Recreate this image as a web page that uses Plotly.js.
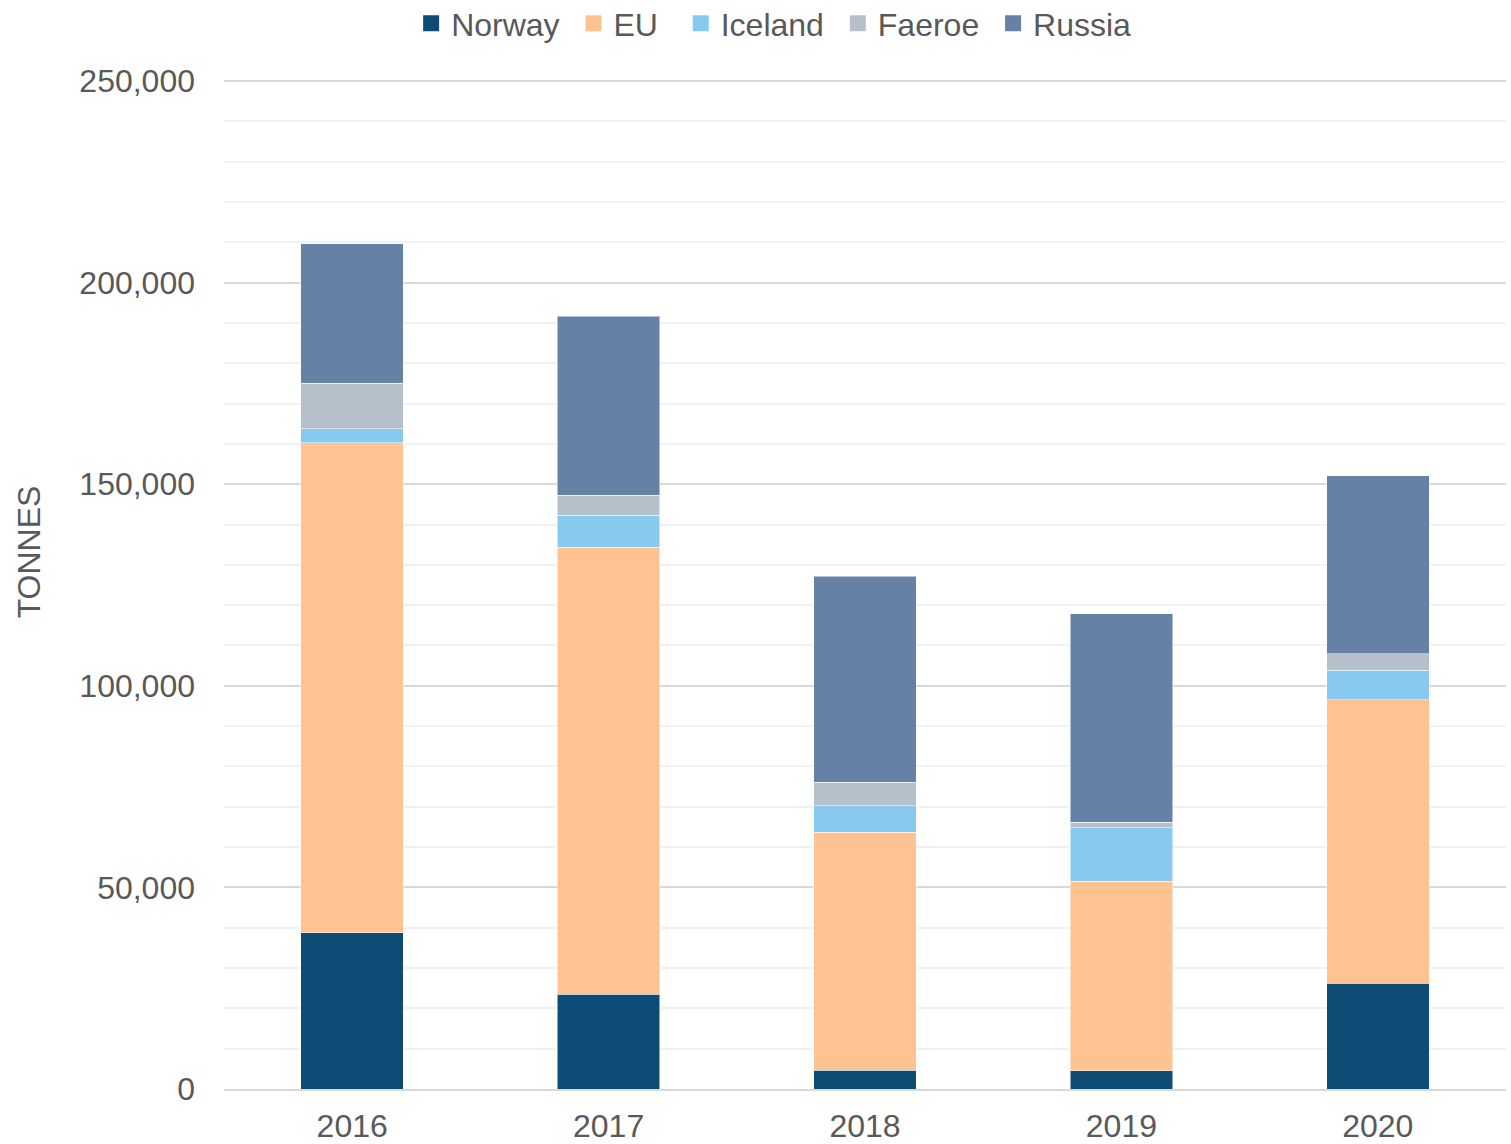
<!DOCTYPE html>
<html>
<head>
<meta charset="utf-8">
<script src="https://cdn.plot.ly/plotly-3.0.1.min.js"></script>
<style>
html,body{margin:0;padding:0;background:#fff;}
#chart{width:1511px;height:1144px;}
</style>
</head>
<body>
<div id="chart"></div>
<script>
const years = ["2016", "2017", "2018", "2019", "2020"];
const norway  = [38800, 23500, 4600, 4500, 26200];
const eu      = [121500, 110900, 59100, 47000, 70300];
const iceland = [3500, 7900, 6600, 13300, 7300];
const faeroe  = [11300, 4900, 5800, 1300, 4200];
const russia  = [34600, 44500, 51100, 51800, 44100];

const seriesNames = ["Norway", "EU", "Iceland", "Faeroe", "Russia"];
const seriesValues = [norway, eu, iceland, faeroe, russia];
const seriesColors = ["#0E4C76", "#FFC391", "#88CAEF", "#B6C0CB", "#6581A6"];
const yTitle = "TONNES";

const font = "Arial, 'Liberation Sans', sans-serif";
const textColor = "#595959";
const fs = 32;
const NB = "\u00a0";
const legendPad = [NB, NB + NB, NB, NB, ""];

const traces = seriesNames.map((name, i) => ({
  type: "bar",
  name: name,
  x: years,
  y: seriesValues[i],
  showlegend: false,
  legendgroup: name,
  marker: { color: seriesColors[i], line: { color: "rgba(255,255,255,0.5)", width: 1 } },
  hoverinfo: "x+y+name"
}));

// legend-only entries with larger square swatches
seriesNames.forEach((name, i) => {
  traces.push({
    type: "scatter",
    mode: "markers",
    name: name + legendPad[i],
    legendgroup: name,
    x: [null],
    y: [null],
    marker: { symbol: "square", size: 16, color: seriesColors[i] },
    hoverinfo: "skip"
  });
});

const layout = {
  width: 1511,
  height: 1144,
  barmode: "stack",
  bargap: 0.6,
  paper_bgcolor: "#ffffff",
  plot_bgcolor: "#ffffff",
  margin: { l: 224, r: 5, t: 80, b: 55 },
  font: { family: font, color: textColor, size: fs },
  showlegend: true,
  legend: {
    orientation: "h",
    xref: "container",
    yref: "container",
    x: 0.512,
    xanchor: "center",
    y: 0.9795,
    yanchor: "middle",
    font: { family: font, size: fs, color: textColor },
    itemwidth: 30,
    tracegroupgap: 0,
    traceorder: "normal"
  },
  xaxis: {
    type: "category",
    showgrid: false,
    zeroline: false,
    showline: true,
    linecolor: "#d9d9d9",
    linewidth: 2,
    ticks: "",
    tickfont: { family: font, size: fs, color: textColor },
    ticklabelstandoff: 8
  },
  yaxis: {
    range: [0, 250250],
    dtick: 50000,
    tick0: 0,
    tickformat: ",d",
    showgrid: true,
    gridcolor: "#d9d9d9",
    gridwidth: 2,
    zeroline: false,
    showline: false,
    ticks: "",
    ticklabelstandoff: 28,
    tickfont: { family: font, size: fs, color: textColor },
    minor: { dtick: 10000, showgrid: true, gridcolor: "#f2f2f2", gridwidth: 2, ticks: "" }
  },
  annotations: [{
    text: yTitle,
    xref: "paper",
    yref: "paper",
    x: -0.152,
    xanchor: "center",
    y: 0.532,
    yanchor: "middle",
    textangle: -90,
    showarrow: false,
    font: { family: font, size: fs, color: textColor }
  }]
};

Plotly.newPlot("chart", traces, layout, { displayModeBar: false, staticPlot: true });
</script>
</body>
</html>
